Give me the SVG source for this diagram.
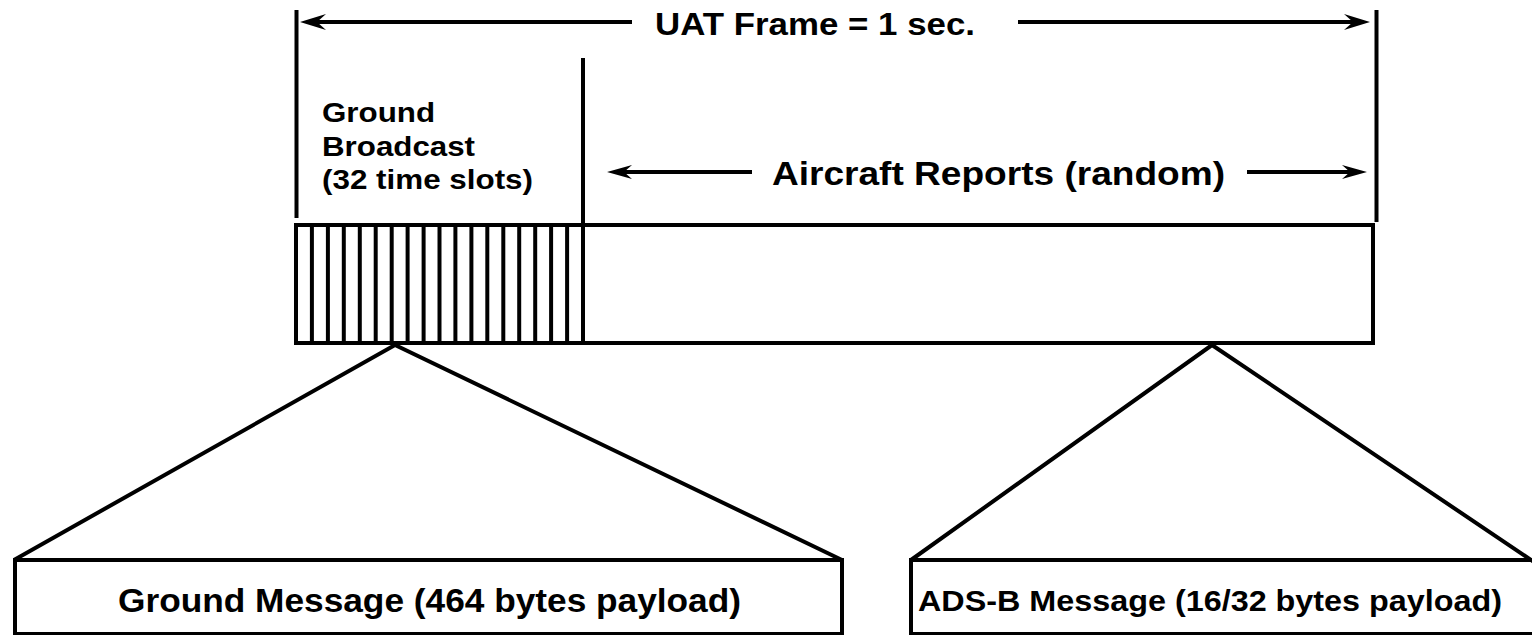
<svg xmlns="http://www.w3.org/2000/svg" width="1532" height="635" viewBox="0 0 1532 635">
<style>
.ln{stroke:#000;stroke-width:4;fill:none;stroke-linecap:butt}
.sl{stroke:#000;stroke-width:4;fill:none}
.ah{fill:#000;stroke:none}
.t{font-family:"Liberation Sans",Arial,Helvetica,sans-serif;font-weight:bold;fill:#000}
</style>
<rect width="1532" height="635" fill="#fff"/>
<g id="connectors">
  <line class="ln" x1="296.5" y1="10" x2="296.5" y2="218"/>
  <line class="ln" x1="1376.5" y1="10" x2="1376.5" y2="222"/>
  <line class="ln" x1="583" y1="58" x2="583" y2="343"/>
  <line class="ln" x1="312" y1="22" x2="632" y2="22"/>
  <path class="ah" d="M300,22 L326,14 L317,22 L326,30 Z"/>
  <line class="ln" x1="1018" y1="22" x2="1358" y2="22"/>
  <path class="ah" d="M1370,22 L1344,14 L1353,22 L1344,30 Z"/>
  <line class="ln" x1="618" y1="172" x2="752" y2="172"/>
  <path class="ah" d="M607,172 L632,165 L624,172 L632,179 Z"/>
  <line class="ln" x1="1247" y1="172" x2="1356" y2="172"/>
  <path class="ah" d="M1367,172 L1342,165 L1350,172 L1342,179 Z"/>
  <polyline class="ln" points="14,560 395,345 842,560" stroke-linejoin="miter"/>
  <polyline class="ln" points="911,560 1212,345 1534,562" stroke-linejoin="miter"/>
</g>
<g id="frame">
  <rect class="ln" x="296" y="225" width="1077" height="118"/>
  <g id="slots">
    <line class="sl" x1="311.9" y1="225" x2="311.9" y2="343"/>
    <line class="sl" x1="327.9" y1="225" x2="327.9" y2="343"/>
    <line class="sl" x1="343.8" y1="225" x2="343.8" y2="343"/>
    <line class="sl" x1="359.8" y1="225" x2="359.8" y2="343"/>
    <line class="sl" x1="375.7" y1="225" x2="375.7" y2="343"/>
    <line class="sl" x1="391.7" y1="225" x2="391.7" y2="343"/>
    <line class="sl" x1="407.6" y1="225" x2="407.6" y2="343"/>
    <line class="sl" x1="423.6" y1="225" x2="423.6" y2="343"/>
    <line class="sl" x1="439.5" y1="225" x2="439.5" y2="343"/>
    <line class="sl" x1="455.4" y1="225" x2="455.4" y2="343"/>
    <line class="sl" x1="471.4" y1="225" x2="471.4" y2="343"/>
    <line class="sl" x1="487.3" y1="225" x2="487.3" y2="343"/>
    <line class="sl" x1="503.3" y1="225" x2="503.3" y2="343"/>
    <line class="sl" x1="519.2" y1="225" x2="519.2" y2="343"/>
    <line class="sl" x1="535.2" y1="225" x2="535.2" y2="343"/>
    <line class="sl" x1="551.1" y1="225" x2="551.1" y2="343"/>
    <line class="sl" x1="567.1" y1="225" x2="567.1" y2="343"/>
  </g>
</g>
<g id="title">
  <text class="t" x="655" y="35" font-size="31" textLength="320" lengthAdjust="spacingAndGlyphs">UAT Frame = 1 sec.</text>
</g>
<g id="ground-broadcast">
  <text class="t" x="322" y="122" font-size="28" textLength="113" lengthAdjust="spacingAndGlyphs">Ground</text>
  <text class="t" x="322" y="156" font-size="28" textLength="153" lengthAdjust="spacingAndGlyphs">Broadcast</text>
  <text class="t" x="322" y="189" font-size="28" textLength="211" lengthAdjust="spacingAndGlyphs">(32 time slots)</text>
</g>
<g id="aircraft-reports">
  <text class="t" x="772" y="185" font-size="34" textLength="453" lengthAdjust="spacingAndGlyphs">Aircraft Reports (random)</text>
</g>
<g id="ground-message">
  <rect class="ln" x="15" y="560" width="827" height="74"/>
  <text class="t" x="118" y="612" font-size="34" textLength="623" lengthAdjust="spacingAndGlyphs">Ground Message (464 bytes payload)</text>
</g>
<g id="adsb-message">
  <rect class="ln" x="911" y="560" width="640" height="74"/>
  <text class="t" x="918" y="611" font-size="29" textLength="584" lengthAdjust="spacingAndGlyphs">ADS-B Message (16/32 bytes payload)</text>
</g>
</svg>
